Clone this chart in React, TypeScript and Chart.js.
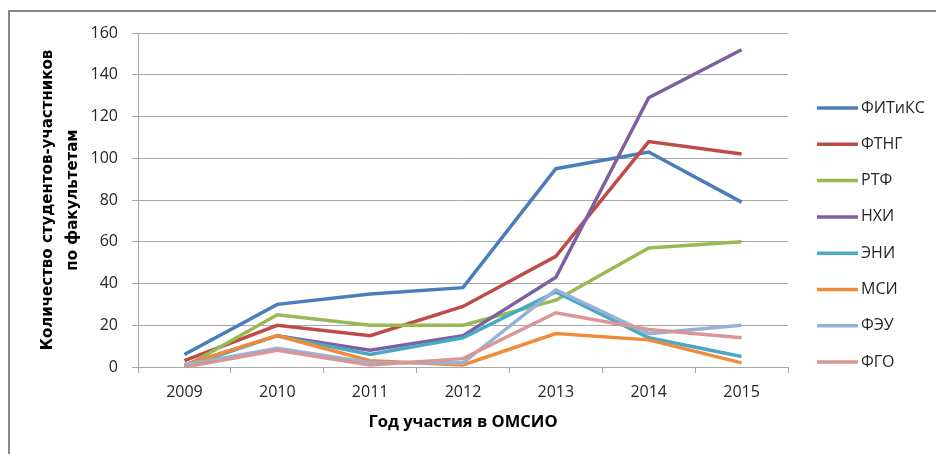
import React, { useEffect, useRef } from "react";
import { Chart, registerables } from "chart.js";

Chart.register(...registerables);

const years = ["2009", "2010", "2011", "2012", "2013", "2014", "2015"];
const fitiks = [6, 30, 35, 38, 95, 103, 79];
const ftng = [3, 20, 15, 29, 53, 108, 102];
const rtf = [0, 25, 20, 20, 32, 57, 60];
const nhi = [1, 15, 8, 15, 43, 129, 152];
const eni = [0, 15, 6, 14, 36, 14, 5];
const msi = [1, 15, 3, 1, 16, 13, 2];
const feu = [1, 9, 2, 2, 37, 16, 20];
const fgo = [0, 8, 1, 4, 26, 18, 14];

const seriesNames = ["ФИТиКС", "ФТНГ", "РТФ", "НХИ", "ЭНИ", "МСИ", "ФЭУ", "ФГО"];
const seriesValues = [fitiks, ftng, rtf, nhi, eni, msi, feu, fgo];
const seriesColors = ["#4A7EBB", "#BE4B48", "#98B954", "#7D60A0", "#46AAC5", "#F08B3A", "#95B3D7", "#D99694"];

const yTitle = ["Количество студентов-участников", "по факультетам"];
const xTitle = "Год участия в ОМСИО";

const gridColor = "#a8a8a8";
const textColor = "#262626";
const tickFont = { family: "'Open Sans'", size: 16 };

export default function App() {
  const ref = useRef<HTMLCanvasElement>(null);

  useEffect(() => {
    document.body.style.margin = "0";
    const canvas = ref.current;
    if (!canvas) return;

    const framePlugin = {
      id: "frame",
      beforeDraw(c: any) {
        const ctx = c.ctx;
        ctx.save();
        ctx.fillStyle = "#ffffff";
        ctx.fillRect(0, 0, c.width, c.height);
        ctx.fillStyle = "#8a8a8a";
        ctx.fillRect(8, 10, c.width - 8, 2);
        ctx.fillRect(8, 10, 2, c.height - 10);
        ctx.restore();
      },
    };

    const legendPlugin = {
      id: "xlLegend",
      afterDraw(c: any) {
        const ctx = c.ctx;
        ctx.save();
        ctx.font = "16px 'Open Sans'";
        ctx.textBaseline = "middle";
        ctx.textAlign = "left";
        c.data.datasets.forEach((ds: any, i: number) => {
          const y = 108 + i * 36.3;
          ctx.strokeStyle = ds.borderColor;
          ctx.lineWidth = 3.5;
          ctx.beginPath();
          ctx.moveTo(817, y);
          ctx.lineTo(858, y);
          ctx.stroke();
          ctx.fillStyle = textColor;
          ctx.fillText(ds.label, 861, y);
        });
        ctx.restore();
      },
    };

    const chart = new Chart(canvas, {
      type: "line",
      data: {
        labels: years,
        datasets: seriesNames.map((name, i) => ({
          label: name,
          data: seriesValues[i],
          borderColor: seriesColors[i],
          backgroundColor: seriesColors[i],
          borderWidth: 3.5,
          pointRadius: 0,
          tension: 0,
          fill: false,
          order: -i,
        })),
      },
      options: {
        animation: false,
        responsive: false,
        devicePixelRatio: 1,
        layout: { padding: { top: 33, right: 148, bottom: 0, left: 0 } },
        plugins: {
          legend: { display: false },
          tooltip: { enabled: false },
        },
        scales: {
          x: {
            type: "category",
            offset: true,
            grid: {
              offset: true,
              drawOnChartArea: false,
              drawTicks: true,
              tickLength: 6,
              color: gridColor,
            },
            border: { color: gridColor },
            ticks: { padding: 10, font: tickFont, color: textColor },
            title: {
              display: true,
              text: xTitle,
              color: "#000000",
              font: { family: "'Open Sans'", size: 16.5, weight: "bold" },
              padding: { top: 0, bottom: 22 },
            },
            afterFit(s: any) {
              s.height = 87;
            },
          },
          y: {
            min: 0,
            max: 160,
            ticks: { stepSize: 20, padding: 14, font: tickFont, color: textColor },
            grid: { color: gridColor, tickLength: 6, drawTicks: true },
            border: { color: gridColor },
            title: {
              display: true,
              text: yTitle,
              color: "#000000",
              font: { family: "'DejaVu Sans'", size: 15, weight: "bold", lineHeight: "25px" },
              padding: { top: 36, bottom: 0 },
            },
            afterFit(s: any) {
              s.width = 138;
            },
          },
        },
      } as any,
      plugins: [framePlugin, legendPlugin],
    });

    return () => chart.destroy();
  }, []);

  return (
    <div style={{ width: 936, height: 454, position: "relative" }}>
      <canvas ref={ref} width={936} height={454} style={{ display: "block" }} />
    </div>
  );
}
